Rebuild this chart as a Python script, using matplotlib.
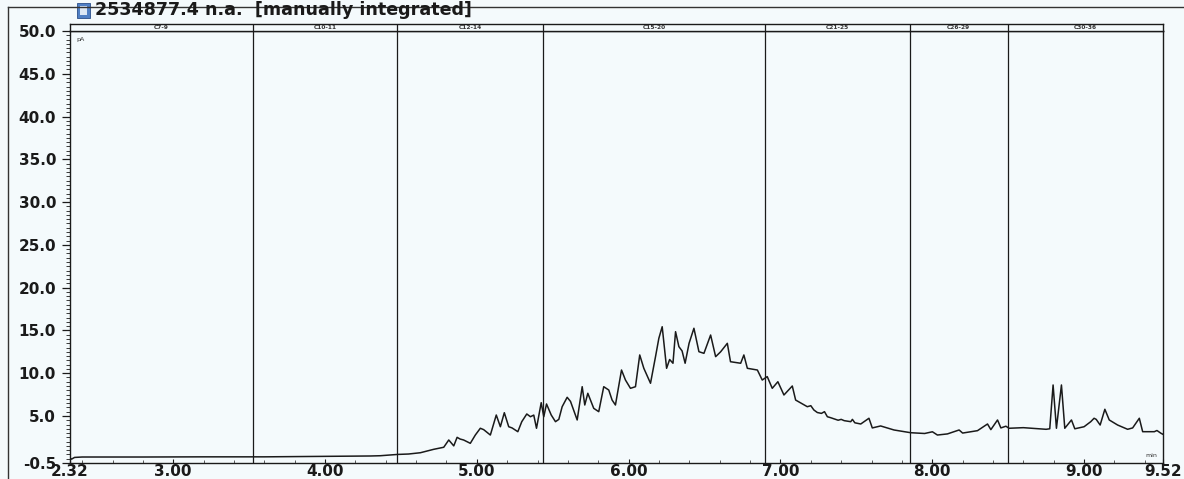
import matplotlib
matplotlib.use("Agg")
import matplotlib.pyplot as plt
from matplotlib.lines import Line2D
from matplotlib.patches import Rectangle
from matplotlib.ticker import MultipleLocator

# retention time (min) and detector signal (pA)
rt = [2.32, 2.33, 2.35, 2.40, 2.80, 3.20, 3.60, 4.00, 4.30, 4.364, 4.476, 4.55, 4.628,
      4.716, 4.782, 4.815, 4.848, 4.870, 4.890, 4.913, 4.957, 4.990, 5.023, 5.045, 5.089,
      5.128, 5.155, 5.181, 5.210, 5.232, 5.270, 5.296, 5.329, 5.353, 5.375, 5.393, 5.424,
      5.441, 5.459, 5.490, 5.518, 5.540, 5.562, 5.595, 5.617, 5.661, 5.694, 5.711, 5.731,
      5.770, 5.803, 5.836, 5.869, 5.891, 5.913, 5.953, 5.979, 6.012, 6.045, 6.073, 6.100,
      6.144, 6.177, 6.199, 6.221, 6.250, 6.270, 6.292, 6.309, 6.331, 6.352, 6.372, 6.398,
      6.430, 6.463, 6.496, 6.540, 6.573, 6.606, 6.650, 6.671, 6.738, 6.759, 6.782, 6.848,
      6.880, 6.913, 6.946, 6.983, 7.023, 7.078, 7.100, 7.177, 7.200, 7.220, 7.243, 7.270,
      7.290, 7.309, 7.330, 7.380, 7.400, 7.420, 7.463,
      7.474, 7.490, 7.529, 7.583, 7.605, 7.660, 7.748, 7.858, 7.950, 8.001, 8.034, 8.100,
      8.177, 8.200, 8.298, 8.364, 8.386, 8.430, 8.452, 8.485, 8.506, 8.600, 8.750, 8.774,
      8.796, 8.818, 8.851, 8.873, 8.917, 8.939, 9.000, 9.044, 9.066, 9.080, 9.106, 9.137,
      9.166, 9.221, 9.287, 9.320, 9.364, 9.386, 9.463, 9.480, 9.507, 9.520]
signal = [0.10, -0.05, 0.15, 0.20, 0.20, 0.22, 0.22, 0.28, 0.32, 0.35, 0.50, 0.55, 0.70,
          1.10, 1.34, 2.19, 1.50, 2.50, 2.30, 2.19, 1.80, 2.77, 3.56, 3.40, 2.77,
          5.11, 3.74, 5.38, 3.74, 3.60, 3.16, 4.33, 5.23, 4.91, 5.10, 3.56, 6.55,
          4.91, 6.40, 5.11, 4.33, 4.60, 6.08, 7.18, 6.70, 4.53, 8.42, 6.28, 7.65,
          5.89, 5.50, 8.42, 8.03, 6.86, 6.28, 10.37, 9.20, 8.23, 8.42, 12.13, 10.57,
          8.82, 11.93, 14.08, 15.43, 10.57, 11.60, 11.16, 14.85, 13.10, 12.60, 11.16, 13.49,
          15.25, 12.51, 12.32, 14.46, 11.93, 12.50, 13.49, 11.34, 11.16, 12.13, 10.57, 10.37,
          9.20, 9.60, 8.23, 9.00, 7.45, 8.50, 6.86, 6.08, 6.20, 5.70, 5.40, 5.30,
          5.50, 4.91, 4.80, 4.50, 4.60, 4.45, 4.33,
          4.60, 4.20, 4.06, 4.73, 3.60, 3.83, 3.36, 3.04, 2.95, 3.15, 2.77, 2.90,
          3.36, 3.00, 3.28, 4.06, 3.40, 4.53, 3.60, 3.80, 3.56, 3.63, 3.44, 3.50,
          8.62, 3.56, 8.62, 3.56, 4.53, 3.50, 3.74, 4.33, 4.73, 4.60, 3.94, 5.78,
          4.53, 3.94, 3.44, 3.60, 4.73, 3.16, 3.16, 3.30, 2.97, 2.85]

# integration window boundaries and their carbon-range names
windows = [2.32, 3.526, 4.476, 5.438, 6.895, 7.851, 8.497, 9.52]
window_names = ["C7-9", "C10-11", "C12-14", "C15-20", "C21-25", "C26-29", "C30-36"]

x_ticks = [2.32, 3.0, 4.0, 5.0, 6.0, 7.0, 8.0, 9.0, 9.52]
x_labels = ["2.32", "3.00", "4.00", "5.00", "6.00", "7.00", "8.00", "9.00", "9.52"]
y_ticks = [-0.5, 5, 10, 15, 20, 25, 30, 35, 40, 45, 50]
y_labels = ["-0.5", "5.0", "10.0", "15.0", "20.0", "25.0", "30.0", "35.0", "40.0", "45.0", "50.0"]

W, H = 1184, 479
bg = "#f4fafc"
ink = "#1a1a1a"
plt.rcParams["font.family"] = ["DejaVu Sans"]

fig = plt.figure(figsize=(W / 100, H / 100), dpi=100, facecolor=bg)


def fx(px):
    return px / W


def fy(py):
    return 1 - py / H


x0, x1 = 70, 1163
ax = fig.add_axes([fx(x0), fy(463), fx(x1 - x0), fy(31) - fy(463)], facecolor=bg)
band = fig.add_axes([fx(x0), fy(31), fx(x1 - x0), fy(24) - fy(31)], facecolor=bg)

ax.plot(rt, signal, color=ink, lw=1.1)
ax.set_xlim(2.32, 9.52)
ax.set_ylim(-0.5, 50.0)

for b in windows[1:-1]:
    ax.axvline(b, color=ink, lw=0.9)
    band.axvline(b, color=ink, lw=0.9)

band.set_xlim(2.32, 9.52)
band.set_ylim(0, 1)
band.set_xticks([])
band.set_yticks([])
for i, name in enumerate(window_names):
    band.text((windows[i] + windows[i + 1]) / 2, 0.55, name, ha="center", va="center",
              fontsize=4.2, fontweight="bold", color="#333333")

for a in (ax, band):
    for s in a.spines.values():
        s.set_color(ink)
        s.set_linewidth(1.0)

ax.set_xticks(x_ticks)
ax.set_xticklabels(x_labels)
ax.set_yticks(y_ticks)
ax.set_yticklabels(y_labels)
ax.xaxis.set_minor_locator(MultipleLocator(0.2))
ax.yaxis.set_minor_locator(MultipleLocator(0.5))
ax.tick_params(axis="y", which="major", direction="out", length=6, width=0.9, pad=4,
               labelsize=11, colors=ink)
ax.tick_params(axis="y", which="minor", direction="out", length=3, width=0.6, colors=ink)
ax.tick_params(axis="x", which="major", direction="in", length=3, width=0.8, pad=1,
               labelsize=11, colors=ink)
ax.tick_params(axis="x", which="minor", direction="in", length=2, width=0.5, colors=ink)
for lab in ax.get_xticklabels() + ax.get_yticklabels():
    lab.set_fontweight("bold")

ax.text(0.006, 0.985, "pA", transform=ax.transAxes, fontsize=4.5, va="top", ha="left", color="#333333")
ax.text(0.995, 0.012, "min", transform=ax.transAxes, fontsize=4.5, va="bottom", ha="right", color="#333333")

# header line with the document icon
fig.text(fx(95), fy(10), "2534877.4 n.a.  [manually integrated]", fontsize=12.6,
         fontweight="bold", color=ink, va="center", ha="left")
fig.add_artist(Rectangle((fx(77), fy(18)), fx(13), fy(3) - fy(18), transform=fig.transFigure,
                         facecolor="#4f7fc4", edgecolor="#2a4f8a", lw=0.6))
fig.add_artist(Rectangle((fx(80), fy(15)), fx(7), fy(6) - fy(15), transform=fig.transFigure,
                         facecolor="#dce8f5", edgecolor="none"))

# outer frame
fig.add_artist(Line2D([fx(8), fx(8)], [fy(7), 0], transform=fig.transFigure, color="#333333", lw=1.0))
fig.add_artist(Line2D([fx(8), 1], [fy(7), fy(7)], transform=fig.transFigure, color="#333333", lw=1.0))

fig.savefig("out.png", dpi=100, facecolor=bg)
